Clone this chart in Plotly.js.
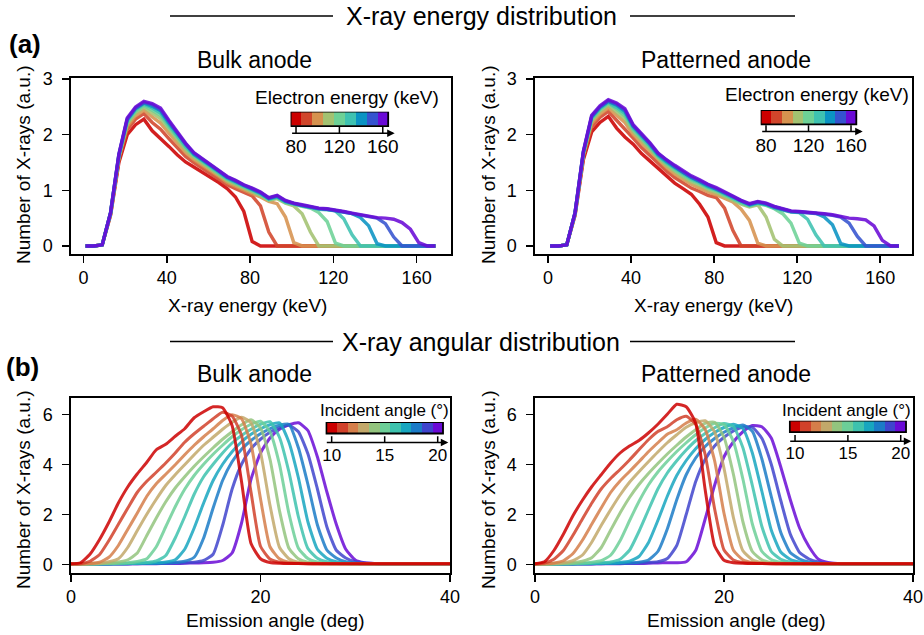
<!DOCTYPE html>
<html><head><meta charset="utf-8">
<script src="https://cdn.plot.ly/plotly-3.0.1.min.js"></script>
<style>html,body{margin:0;padding:0;background:#fff;}#plot{width:924px;height:635px;}</style>
</head><body><div id="plot"></div>
<script>
// ---------------- DATA ----------------
const xrayEnergy = [1,5,9,13,17,21,25,29,33,37,41,45,49,53,57,61,65,69,73,77,81,85,89,93,97,101,105,109,113,117,121,125,129,133,137,141,145,149,153,157,161,165,169];
const electronEnergies = [80,90,100,110,120,130,140,150,160];
const energyTicks = [80,120,160];

const bulkE80  = [0,0,0.02,0.55,1.50,2.00,2.18,2.28,2.07,1.94,1.79,1.64,1.51,1.42,1.33,1.24,1.14,1.03,0.88,0.62,0.08,0,0,0,0,0,0,0,0,0,0,0,0,0,0,0,0,0,0,0,0,0,0];
const bulkE90  = [0,0,0.02,0.57,1.55,2.09,2.28,2.38,2.22,2.10,1.93,1.77,1.61,1.50,1.40,1.31,1.21,1.10,1.03,0.96,0.90,0.72,0.25,0,0,0,0,0,0,0,0,0,0,0,0,0,0,0,0,0,0,0,0];
const bulkE100 = [0,0,0.02,0.58,1.58,2.15,2.34,2.44,2.32,2.21,2.03,1.85,1.68,1.55,1.45,1.36,1.25,1.14,1.07,1.00,0.94,0.88,0.80,0.76,0.52,0.06,0,0,0,0,0,0,0,0,0,0,0,0,0,0,0,0,0];
const bulkE110 = [0,0,0.02,0.58,1.60,2.20,2.39,2.49,2.39,2.29,2.10,1.91,1.73,1.59,1.49,1.39,1.28,1.17,1.10,1.03,0.97,0.91,0.82,0.85,0.77,0.72,0.58,0.25,0,0,0,0,0,0,0,0,0,0,0,0,0,0,0];
const bulkE120 = [0,0,0.02,0.59,1.61,2.22,2.42,2.52,2.44,2.35,2.14,1.96,1.77,1.62,1.51,1.41,1.30,1.20,1.13,1.05,0.99,0.92,0.83,0.87,0.78,0.74,0.71,0.68,0.60,0.44,0.05,0,0,0,0,0,0,0,0,0,0,0,0];
const bulkE130 = [0,0,0.02,0.59,1.62,2.25,2.45,2.55,2.48,2.39,2.18,1.99,1.79,1.64,1.53,1.43,1.32,1.21,1.14,1.07,1.01,0.94,0.84,0.88,0.79,0.75,0.72,0.69,0.66,0.65,0.63,0.49,0.20,0,0,0,0,0,0,0,0,0,0];
const bulkE140 = [0,0,0.02,0.60,1.64,2.27,2.47,2.57,2.51,2.43,2.21,2.02,1.82,1.65,1.55,1.45,1.34,1.23,1.16,1.08,1.02,0.95,0.85,0.89,0.80,0.76,0.73,0.70,0.67,0.66,0.64,0.61,0.58,0.51,0.36,0.04,0,0,0,0,0,0,0];
const bulkE150 = [0,0,0.02,0.60,1.64,2.28,2.48,2.58,2.54,2.45,2.24,2.04,1.83,1.67,1.56,1.46,1.35,1.24,1.17,1.09,1.03,0.96,0.86,0.90,0.81,0.76,0.73,0.70,0.67,0.66,0.64,0.61,0.58,0.55,0.52,0.50,0.40,0.16,0,0,0,0,0];
const bulkE160 = [0,0,0.02,0.60,1.65,2.30,2.50,2.60,2.56,2.48,2.26,2.06,1.85,1.68,1.57,1.47,1.36,1.25,1.18,1.10,1.04,0.97,0.87,0.91,0.82,0.77,0.74,0.71,0.68,0.67,0.65,0.62,0.59,0.56,0.53,0.51,0.50,0.48,0.42,0.30,0.06,0,0];

const patE80  = [0,0,0.02,0.55,1.55,2.05,2.22,2.33,2.12,1.96,1.83,1.66,1.53,1.40,1.26,1.13,1.03,0.93,0.75,0.52,0.06,0,0,0,0,0,0,0,0,0,0,0,0,0,0,0,0,0,0,0,0,0,0];
const patE90  = [0,0,0.02,0.57,1.60,2.14,2.31,2.42,2.26,2.11,1.94,1.77,1.63,1.48,1.35,1.23,1.13,1.04,0.98,0.91,0.87,0.68,0.28,0,0,0,0,0,0,0,0,0,0,0,0,0,0,0,0,0,0,0,0];
const patE100 = [0,0,0.02,0.58,1.63,2.20,2.37,2.48,2.35,2.22,2.00,1.85,1.70,1.54,1.41,1.29,1.20,1.11,1.04,0.97,0.92,0.85,0.79,0.66,0.46,0.05,0,0,0,0,0,0,0,0,0,0,0,0,0,0,0,0,0];
const patE110 = [0,0,0.02,0.58,1.65,2.25,2.42,2.53,2.41,2.29,2.06,1.90,1.74,1.58,1.45,1.34,1.24,1.15,1.09,1.01,0.96,0.89,0.82,0.75,0.70,0.74,0.52,0.12,0,0,0,0,0,0,0,0,0,0,0,0,0,0,0];
const patE120 = [0,0,0.02,0.59,1.66,2.28,2.45,2.56,2.46,2.34,2.09,1.94,1.78,1.60,1.48,1.37,1.27,1.18,1.12,1.04,0.99,0.91,0.85,0.77,0.72,0.76,0.73,0.67,0.58,0.41,0.05,0,0,0,0,0,0,0,0,0,0,0,0];
const patE130 = [0,0,0.02,0.59,1.67,2.30,2.47,2.58,2.49,2.38,2.12,1.97,1.80,1.62,1.50,1.40,1.30,1.21,1.14,1.06,1.01,0.93,0.86,0.79,0.73,0.77,0.74,0.68,0.65,0.61,0.60,0.48,0.20,0,0,0,0,0,0,0,0,0,0];
const patE140 = [0,0,0.02,0.60,1.69,2.32,2.49,2.60,2.53,2.42,2.15,2.00,1.83,1.64,1.52,1.42,1.32,1.23,1.16,1.08,1.02,0.95,0.88,0.80,0.74,0.78,0.75,0.70,0.66,0.62,0.61,0.60,0.59,0.52,0.38,0.04,0,0,0,0,0,0,0];
const patE150 = [0,0,0.02,0.60,1.69,2.33,2.50,2.61,2.55,2.44,2.16,2.01,1.84,1.66,1.54,1.43,1.33,1.24,1.17,1.10,1.04,0.96,0.89,0.81,0.75,0.79,0.76,0.70,0.66,0.62,0.61,0.60,0.59,0.57,0.55,0.52,0.41,0.17,0,0,0,0,0];
const patE160 = [0,0,0.02,0.60,1.70,2.35,2.52,2.63,2.57,2.47,2.18,2.03,1.86,1.67,1.55,1.45,1.35,1.26,1.19,1.11,1.05,0.97,0.90,0.82,0.76,0.80,0.77,0.71,0.67,0.63,0.62,0.61,0.60,0.58,0.56,0.53,0.50,0.49,0.47,0.36,0.10,0,0];

const emissionAngle = [0,1,2,3,4,5,6,7,8,9,10,11,12,13,14,15,16,17,18,19,20,21,22,23,24,25,26,27,28,29,30,31,32,33,34,35,36,37,38,39,40];
const incidentAngles = [10,11,12,13,14,15,16,17,18,19,20];
const angleTicks = [10,15,20];

const bulkA10 = [0.02,0.06,0.40,0.98,1.68,2.45,3.10,3.62,4.08,4.58,4.80,5.12,5.42,5.86,6.10,6.30,6.26,5.55,3.30,0.83,0.22,0.07,0.04,0.03,0.03,0.02,0.02,0.02,0.02,0.02,0.02,0.02,0.02,0.02,0.02,0.02,0.02,0.02,0.02,0.02,0.02];
const bulkA11 = [0.01,0.02,0.12,0.38,0.95,1.60,2.25,2.88,3.32,3.68,4.05,4.45,4.88,5.22,5.52,5.82,6.08,5.93,5.15,2.88,0.72,0.21,0.08,0.04,0.03,0.02,0.02,0.02,0.02,0.02,0.02,0.02,0.02,0.02,0.02,0.02,0.02,0.02,0.02,0.02,0.02];
const bulkA12 = [0.01,0.01,0.03,0.08,0.28,0.75,1.40,2.05,2.72,3.22,3.60,3.98,4.38,4.76,5.10,5.42,5.75,5.98,5.82,4.80,2.62,0.70,0.22,0.08,0.04,0.03,0.02,0.02,0.02,0.02,0.02,0.02,0.02,0.02,0.02,0.02,0.02,0.02,0.02,0.02,0.02];
const bulkA13 = [0.01,0.01,0.02,0.04,0.10,0.22,0.68,1.35,2.00,2.60,3.15,3.58,3.98,4.38,4.76,5.08,5.40,5.68,5.88,5.66,4.48,2.36,0.68,0.22,0.08,0.04,0.03,0.02,0.02,0.02,0.02,0.02,0.02,0.02,0.02,0.02,0.02,0.02,0.02,0.02,0.02];
const bulkA14 = [0.01,0.01,0.02,0.03,0.05,0.09,0.18,0.45,1.15,1.85,2.50,3.05,3.50,3.92,4.30,4.66,5.00,5.30,5.58,5.78,5.45,4.20,2.15,0.64,0.22,0.08,0.04,0.03,0.02,0.02,0.02,0.02,0.02,0.02,0.02,0.02,0.02,0.02,0.02,0.02,0.02];
const bulkA15 = [0.01,0.01,0.01,0.02,0.03,0.04,0.06,0.11,0.22,0.70,1.50,2.30,3.00,3.55,4.00,4.40,4.76,5.10,5.38,5.60,5.72,5.30,4.00,2.03,0.64,0.23,0.09,0.04,0.03,0.02,0.02,0.02,0.02,0.02,0.02,0.02,0.02,0.02,0.02,0.02,0.02];
const bulkA16 = [0.01,0.01,0.01,0.02,0.02,0.03,0.04,0.05,0.07,0.13,0.35,1.05,1.90,2.80,3.50,4.00,4.45,4.85,5.15,5.40,5.60,5.70,5.08,3.69,1.90,0.63,0.24,0.10,0.05,0.03,0.02,0.02,0.02,0.02,0.02,0.02,0.02,0.02,0.02,0.02,0.02];
const bulkA17 = [0.01,0.01,0.01,0.01,0.02,0.02,0.03,0.04,0.05,0.06,0.09,0.18,0.60,1.45,2.45,3.35,4.00,4.50,4.90,5.20,5.42,5.58,5.66,4.88,3.46,1.70,0.60,0.24,0.10,0.05,0.03,0.02,0.02,0.02,0.02,0.02,0.02,0.02,0.02,0.02,0.02];
const bulkA18 = [0.01,0.01,0.01,0.01,0.01,0.02,0.02,0.03,0.03,0.04,0.05,0.07,0.12,0.28,1.05,2.25,3.35,4.10,4.60,4.95,5.22,5.42,5.56,5.60,4.66,3.20,1.58,0.57,0.25,0.10,0.05,0.03,0.02,0.02,0.02,0.02,0.02,0.02,0.02,0.02,0.02];
const bulkA19 = [0.01,0.01,0.01,0.01,0.01,0.02,0.02,0.02,0.03,0.03,0.04,0.05,0.06,0.08,0.15,0.40,1.55,3.00,4.00,4.62,5.00,5.28,5.46,5.56,5.30,4.42,3.02,1.50,0.56,0.25,0.10,0.05,0.03,0.02,0.02,0.02,0.02,0.02,0.02,0.02,0.02];
const bulkA20 = [0.01,0.01,0.01,0.01,0.01,0.01,0.01,0.02,0.02,0.02,0.03,0.03,0.04,0.05,0.06,0.08,0.15,0.45,1.65,3.40,4.45,5.05,5.40,5.58,5.66,5.35,4.30,2.90,1.60,0.60,0.17,0.06,0.03,0.02,0.02,0.02,0.02,0.02,0.02,0.02,0.02];

const patA10 = [0.02,0.10,0.55,1.20,1.93,2.55,3.10,3.58,4.05,4.45,4.73,4.95,5.25,5.60,6.00,6.40,6.30,5.65,3.00,0.75,0.16,0.06,0.04,0.03,0.03,0.02,0.02,0.02,0.02,0.02,0.02,0.02,0.02,0.02,0.02,0.02,0.02,0.02,0.02,0.02,0.02];
const patA11 = [0.01,0.05,0.20,0.55,1.15,1.80,2.44,3.01,3.43,3.79,4.17,4.58,4.98,5.31,5.50,5.78,5.92,5.60,4.40,2.23,0.57,0.17,0.07,0.04,0.03,0.02,0.02,0.02,0.02,0.02,0.02,0.02,0.02,0.02,0.02,0.02,0.02,0.02,0.02,0.02,0.02];
const patA12 = [0.01,0.02,0.05,0.14,0.42,0.95,1.60,2.25,2.87,3.33,3.71,4.10,4.50,4.86,5.20,5.38,5.65,5.80,5.40,4.15,2.04,0.56,0.18,0.07,0.04,0.03,0.02,0.02,0.02,0.02,0.02,0.02,0.02,0.02,0.02,0.02,0.02,0.02,0.02,0.02,0.02];
const patA13 = [0.01,0.01,0.03,0.06,0.14,0.36,0.88,1.55,2.18,2.77,3.28,3.70,4.10,4.49,4.86,5.18,5.48,5.66,5.74,5.30,3.84,1.86,0.54,0.18,0.07,0.04,0.03,0.02,0.02,0.02,0.02,0.02,0.02,0.02,0.02,0.02,0.02,0.02,0.02,0.02,0.02];
const patA14 = [0.01,0.01,0.02,0.04,0.06,0.12,0.26,0.66,1.36,2.05,2.67,3.19,3.63,4.03,4.41,4.76,5.09,5.38,5.64,5.68,5.08,3.59,1.70,0.51,0.18,0.07,0.04,0.03,0.02,0.02,0.02,0.02,0.02,0.02,0.02,0.02,0.02,0.02,0.02,0.02,0.02];
const patA15 = [0.01,0.01,0.01,0.02,0.03,0.05,0.08,0.14,0.36,0.94,1.74,2.51,3.17,3.69,4.12,4.51,4.86,5.18,5.45,5.64,5.59,4.91,3.41,1.61,0.52,0.19,0.08,0.04,0.03,0.02,0.02,0.02,0.02,0.02,0.02,0.02,0.02,0.02,0.02,0.02,0.02];
const patA16 = [0.01,0.01,0.01,0.02,0.02,0.03,0.04,0.06,0.09,0.20,0.56,1.31,2.17,3.01,3.65,4.14,4.57,4.94,5.23,5.46,5.63,5.51,4.66,3.15,1.52,0.51,0.20,0.09,0.04,0.03,0.02,0.02,0.02,0.02,0.02,0.02,0.02,0.02,0.02,0.02,0.02];
const patA17 = [0.01,0.01,0.01,0.01,0.02,0.02,0.03,0.04,0.05,0.07,0.12,0.31,0.86,1.75,2.72,3.55,4.15,4.62,4.99,5.27,5.47,5.60,5.43,4.45,2.93,1.37,0.49,0.20,0.09,0.04,0.03,0.02,0.02,0.02,0.02,0.02,0.02,0.02,0.02,0.02,0.02];
const patA18 = [0.01,0.01,0.01,0.01,0.01,0.02,0.02,0.03,0.03,0.04,0.06,0.08,0.17,0.51,1.41,2.58,3.58,4.25,4.71,5.03,5.28,5.46,5.57,5.32,4.22,2.71,1.28,0.47,0.21,0.09,0.04,0.03,0.02,0.02,0.02,0.02,0.02,0.02,0.02,0.02,0.02];
const patA19 = [0.01,0.01,0.01,0.01,0.01,0.02,0.02,0.02,0.03,0.03,0.04,0.05,0.07,0.10,0.23,0.75,1.99,3.30,4.19,4.73,5.08,5.33,5.49,5.48,5.04,4.00,2.56,1.22,0.47,0.21,0.09,0.04,0.03,0.02,0.02,0.02,0.02,0.02,0.02,0.02,0.02];
const patA20 = [0.01,0.01,0.01,0.01,0.01,0.01,0.01,0.02,0.02,0.02,0.03,0.03,0.04,0.05,0.06,0.06,0.10,0.55,1.80,3.15,4.30,4.90,5.30,5.55,5.50,5.05,3.90,2.60,1.45,0.70,0.20,0.07,0.03,0.02,0.02,0.02,0.02,0.02,0.02,0.02,0.02];

const energyColors = ['#cc0000','#d1462b','#d6924f','#a3c271','#6dd196','#3ec2b1','#0a93c3','#3553cf','#6a0ad6'];
const angleColors  = ['#cc0000','#d1412a','#d57e4a','#c2a86a','#93c47e','#6ccf98','#3dc2ae','#17a6bf','#1b7bc7','#3f44cd','#6a0ad6'];

// ---------------- BUILD ----------------
const FONT = 'Liberation Sans, Arial, Helvetica, sans-serif';
const W = 924, H = 635;
const px = v => v / W;
const py = v => 1 - v / H;

const bulkEnergy = [bulkE80,bulkE90,bulkE100,bulkE110,bulkE120,bulkE130,bulkE140,bulkE150,bulkE160];
const patEnergy  = [patE80,patE90,patE100,patE110,patE120,patE130,patE140,patE150,patE160];
const bulkAngle  = [bulkA10,bulkA11,bulkA12,bulkA13,bulkA14,bulkA15,bulkA16,bulkA17,bulkA18,bulkA19,bulkA20];
const patAngle   = [patA10,patA11,patA12,patA13,patA14,patA15,patA16,patA17,patA18,patA19,patA20];

const traces = [];
function addEnergy(series, xa, ya) {
  series.forEach((ys, i) => traces.push({
    type:'scatter', mode:'lines', x: xrayEnergy, y: ys, xaxis: xa, yaxis: ya,
    line:{color: energyColors[i], width: 3.4}, opacity: 0.88, hoverinfo:'skip'
  }));
}
function addAngle(series, xa, ya) {
  for (let i = series.length - 1; i >= 0; i--) traces.push({
    type:'scatter', mode:'lines', x: emissionAngle, y: series[i], xaxis: xa, yaxis: ya,
    line:{color: angleColors[i], width: 3, shape:'spline', smoothing:0.5}, opacity: 0.85, hoverinfo:'skip'
  });
}
addEnergy(bulkEnergy, 'x', 'y');
addEnergy(patEnergy, 'x2', 'y2');
addAngle(bulkAngle, 'x3', 'y3');
addAngle(patAngle, 'x4', 'y4');

function colorSteps(colors) {
  const cs = []; const n = colors.length;
  colors.forEach((c, i) => { cs.push([i / n, c]); cs.push([(i + 1) / n, c]); });
  return cs;
}
const eStep = electronEnergies[1] - electronEnergies[0];
const aStep = incidentAngles[1] - incidentAngles[0];
function addBar(vals, step, colors, ticks, xa, ya, ycell) {
  traces.push({
    type:'heatmap', x: vals, y:[ycell], z:[vals], xaxis: xa, yaxis: ya,
    zmin: vals[0] - step/2, zmax: vals[vals.length-1] + step/2,
    colorscale: colorSteps(colors), showscale:false, hoverinfo:'skip'
  });
  traces.push({
    type:'scatter', mode:'markers', x: ticks, y: ticks.map(() => 0), xaxis: xa, yaxis: ya,
    marker:{symbol:'line-ns', size:9, line:{color:'#000', width:1.5}}, hoverinfo:'skip'
  });
}
addBar(electronEnergies, eStep, energyColors, energyTicks, 'x5', 'y5', 1);
addBar(electronEnergies, eStep, energyColors, energyTicks, 'x6', 'y6', 1);
addBar(incidentAngles, aStep, angleColors, angleTicks, 'x7', 'y7', 1.28);
addBar(incidentAngles, aStep, angleColors, angleTicks, 'x8', 'y8', 1.28);

function mainX(d, r, anchor, tv) {
  return {domain:[px(d[0]), px(d[1])], range:r, anchor:anchor, tickvals:tv, ticks:'outside', ticklen:7, tickwidth:1.5,
    tickcolor:'#000', showline:true, mirror:true, linecolor:'#000', linewidth:1.6, showgrid:false, zeroline:false,
    tickfont:{size:18, family:FONT, color:'#000'}, ticklabelstandoff:0, ticklabeloverflow:'allow', fixedrange:true};
}
function mainY(d, r, anchor, tv) {
  return {domain:[py(d[1]), py(d[0])], range:r, anchor:anchor, tickvals:tv, ticks:'outside', ticklen:7, tickwidth:1.5,
    tickcolor:'#000', showline:true, mirror:true, linecolor:'#000', linewidth:1.6, showgrid:false, zeroline:false,
    tickfont:{size:18, family:FONT, color:'#000'}, ticklabelstandoff:6, ticklabeloverflow:'allow', fixedrange:true};
}
function barX(d, r, anchor, tv, fs) {
  return {domain:[px(d[0]), px(d[1])], range:r, anchor:anchor, tickvals:tv, ticks:'', 
    showline:false, showgrid:false, zeroline:false, tickfont:{size:fs, family:FONT, color:'#000'},
    ticklabelstandoff:0, ticklabeloverflow:'allow', fixedrange:true};
}
function barY(d, r, anchor) {
  return {domain:[py(d[1]), py(d[0])], range:r, anchor:anchor, visible:false, fixedrange:true};
}

const eRange = [electronEnergies[0] - eStep/2, 171];
const aRange = [incidentAngles[0] - 0.6, 21.0];

const layout = {
  width:W, height:H, margin:{l:0,r:0,t:0,b:0}, paper_bgcolor:'#fff', plot_bgcolor:'rgba(0,0,0,0)',
  showlegend:false, hovermode:false, font:{family:FONT, color:'#000'},
  xaxis:  mainX([71,451], [-6,176.5], 'y', [0,40,80,120,160]),
  yaxis:  mainY([78,254], [-0.145,3.02], 'x', [0,1,2,3]),
  xaxis2: mainX([535,912], [-6.3,175.3], 'y2', [0,40,80,120,160]),
  yaxis2: mainY([78,254], [-0.145,3.02], 'x2', [0,1,2,3]),
  xaxis3: mainX([71,450], [0,40], 'y3', [0,20,40]),
  yaxis3: mainY([398,573], [-0.35,6.65], 'x3', [0,2,4,6]),
  xaxis4: mainX([535,913], [0,40], 'y4', [0,20,40]),
  yaxis4: mainY([398,573], [-0.35,6.65], 'x4', [0,2,4,6]),
  xaxis5: barX([290.6,394.7], eRange, 'y5', energyTicks, 19),
  yaxis5: barY([111.7,133.3], [0,1.5], 'x5'),
  xaxis6: barX([760.7,862.7], eRange, 'y6', energyTicks, 19),
  yaxis6: barY([110,131.5], [0,1.5], 'x6'),
  xaxis7: barX([325.3,448.3], aRange, 'y7', angleTicks, 17),
  yaxis7: barY([422,442.5], [0,1.78], 'x7'),
  xaxis8: barX([788.7,911.3], aRange, 'y8', angleTicks, 17),
  yaxis8: barY([420.7,441.2], [0,1.78], 'x8'),
  shapes: [], annotations: []
};

// colorbar outlines + arrows
[['x5','y5',electronEnergies,eStep,1,eRange],['x6','y6',electronEnergies,eStep,1,eRange],
 ['x7','y7',incidentAngles,aStep,1.28,aRange],['x8','y8',incidentAngles,aStep,1.28,aRange]].forEach(([xa,ya,vals,st,yc,rg]) => {
  layout.shapes.push({type:'rect', xref:xa, yref:ya, x0:vals[0]-st/2, x1:vals[vals.length-1]+st/2, y0:yc-0.5, y1:yc+0.5,
    line:{color:'#000', width:1.8}, fillcolor:'rgba(0,0,0,0)'});
  layout.annotations.push({xref:xa, yref:ya, axref:xa, ayref:ya, x:rg[1], y:0, ax:rg[0], ay:0, text:'',
    showarrow:true, arrowhead:2, arrowsize:1, arrowwidth:1.5, arrowcolor:'#000', standoff:0, startstandoff:0});
});

// section header lines
[[16,'X-ray energy distribution'],[341.5,'X-ray angular distribution']].forEach(([yy, txt]) => {
  layout.shapes.push({type:'line', xref:'paper', yref:'paper', x0:px(170), x1:px(333), y0:py(yy), y1:py(yy), line:{color:'#000', width:1.6}});
  layout.shapes.push({type:'line', xref:'paper', yref:'paper', x0:px(630), x1:px(795), y0:py(yy), y1:py(yy), line:{color:'#000', width:1.6}});
  layout.annotations.push({xref:'paper', yref:'paper', x:px(481.5), y:py(yy), text:txt, showarrow:false,
    xanchor:'center', yanchor:'middle', font:{size:25, family:FONT, color:'#000'}});
});

function ann(x, y, text, size, extra) {
  layout.annotations.push(Object.assign({xref:'paper', yref:'paper', x:px(x), y:py(y), text:text, showarrow:false,
    xanchor:'center', yanchor:'middle', font:{size:size, family:FONT, color:'#000'}}, extra || {}));
}
ann(25, 44, '<b>(a)</b>', 26);
ann(22, 367, '<b>(b)</b>', 26);
ann(254.5, 60, 'Bulk anode', 23);
ann(726, 60, 'Patterned anode', 23);
ann(254.5, 374, 'Bulk anode', 23);
ann(726, 374, 'Patterned anode', 23);
ann(23, 165, 'Number of X-rays (a.u.)', 19, {textangle:-90});
ann(488, 165, 'Number of X-rays (a.u.)', 19, {textangle:-90});
ann(23, 490, 'Number of X-rays (a.u.)', 19, {textangle:-90});
ann(488, 490, 'Number of X-rays (a.u.)', 19, {textangle:-90});
ann(247, 305, 'X-ray energy (keV)', 19);
ann(713, 305, 'X-ray energy (keV)', 19);
ann(275, 620, 'Emission angle (deg)', 19);
ann(736, 620, 'Emission angle (deg)', 19);
ann(346.7, 97, 'Electron energy (keV)', 19);
ann(816.8, 95, 'Electron energy (keV)', 19);
ann(384.2, 410, 'Incident angle (°)', 17);
ann(846.7, 410, 'Incident angle (°)', 17);

Plotly.newPlot('plot', traces, layout, {staticPlot:true, displayModeBar:false});
</script>
</body></html>
